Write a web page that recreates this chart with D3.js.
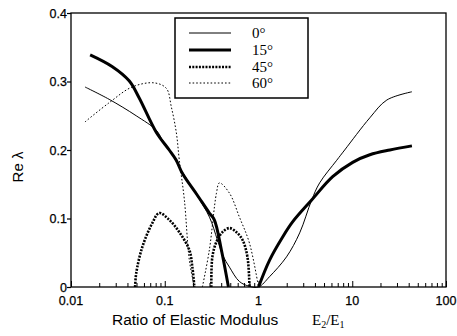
<!DOCTYPE html>
<html><head><meta charset="utf-8">
<script src="https://cdn.jsdelivr.net/npm/d3@7/dist/d3.min.js"></script>
<style>body{margin:0;background:#fff}svg{display:block}</style>
</head><body><svg id="c" width="457" height="336"></svg>
<script>
// ---- data ----
const seriesNames = ["0°", "15°", "45°", "60°"];
// 0° (thin solid)
const s0x = [0.0141, 0.0255, 0.0496, 0.0811, 0.094, 0.1117, 0.154, 0.22, 0.30, 0.364, 0.42, 0.49, 0.626, 0.80, 1.0,
             1.31, 1.99, 2.75, 3.69, 4.49, 6.83, 8.3, 15.4, 23.4, 43.3];
const s0y = [0.292, 0.274, 0.250, 0.229, 0.215, 0.201, 0.168, 0.134, 0.102, 0.069, 0.045, 0.029, 0.008, 0.001, 0.0,
             0.015, 0.044, 0.079, 0.127, 0.152, 0.185, 0.200, 0.247, 0.273, 0.285];
// 15° (thick solid)
const s1x = [0.016, 0.0274, 0.0417, 0.0534, 0.0811, 0.1117, 0.1327, 0.154, 0.22, 0.299, 0.338, 0.402, 0.478];
const s1y = [0.339, 0.322, 0.301, 0.276, 0.226, 0.200, 0.185, 0.166, 0.135, 0.108, 0.098, 0.054, 0.0];
const s1bx = [1.0, 1.31, 1.81, 2.31, 3.69, 6.18, 10.1, 15.4, 25.2, 43.3];
const s1by = [0.0, 0.039, 0.073, 0.095, 0.127, 0.161, 0.182, 0.193, 0.200, 0.206];
// 45° (thick dashed) two humps
const s2ax = [0.0483, 0.0496, 0.0575, 0.0735, 0.0873, 0.1117, 0.143, 0.183, 0.197, 0.207];
const s2ay = [0.0, 0.020, 0.058, 0.093, 0.108, 0.098, 0.080, 0.054, 0.029, 0.0];
const s2bx = [0.314, 0.322, 0.356, 0.412, 0.490, 0.582, 0.674, 0.762, 0.801];
const s2by = [0.0, 0.044, 0.066, 0.080, 0.086, 0.080, 0.069, 0.044, 0.0];
// 60° (thin dotted)
const s3ax = [0.0141, 0.0255, 0.0449, 0.0772, 0.104, 0.1175, 0.133, 0.143, 0.162, 0.183, 0.207];
const s3ay = [0.241, 0.269, 0.292, 0.298, 0.290, 0.263, 0.225, 0.185, 0.127, 0.039, 0.0];
const s3bx = [0.252, 0.299, 0.356, 0.383, 0.490, 0.626, 0.801, 1.0];
const s3by = [0.0, 0.054, 0.137, 0.152, 0.137, 0.102, 0.064, 0.0];

const xTickValues = [0.01, 0.1, 1, 10, 100];
const xTickLabels = ["0.01", "0.1", "1", "10", "100"];
const yTickValues = [0, 0.1, 0.2, 0.3, 0.4];
const yTickLabels = ["0", "0.1", "0.2", "0.3", "0.4"];

// ---- layout ----
const svg = d3.select("#c");
const L = 71, R = 446, T = 13, B = 287;
const x = d3.scaleLog().domain([0.01, 100]).range([L, R]);
const y = d3.scaleLinear().domain([0, 0.4]).range([B, T]);

const g = svg.append("g");
// frame
g.append("rect").attr("x", L).attr("y", T).attr("width", R - L).attr("height", B - T)
  .attr("fill", "none").attr("stroke", "#000").attr("stroke-width", 1.3);

// x axis (ticks inward)
const xAxis = d3.axisTop(x).tickValues(x.ticks()).tickSize(4).tickFormat("");
const xg = g.append("g").attr("transform", `translate(0,${B})`).call(xAxis);
xg.select(".domain").remove();
xg.selectAll(".tick line").attr("stroke", "#000").attr("stroke-width", 1)
  .attr("y2", d => xTickValues.includes(d) ? -6 : -4);
xTickValues.forEach((v, i) => {
  g.append("text").attr("x", x(v)).attr("y", B + 18).attr("text-anchor", "middle")
    .attr("font-family", "Liberation Sans, Arial, sans-serif").attr("font-size", 12.5)
    .attr("stroke", "#000").attr("stroke-width", 0.25)
    .text(xTickLabels[i]);
});

// y axis (ticks outward)
const yAxis = d3.axisLeft(y).tickValues(yTickValues).tickSize(4).tickFormat((d, i) => yTickLabels[i]);
const yg = g.append("g").attr("transform", `translate(${L},0)`).call(yAxis);
yg.select(".domain").remove();
yg.selectAll(".tick line").attr("stroke", "#000").attr("stroke-width", 1.2);
yg.selectAll(".tick text").attr("font-family", "Liberation Sans, Arial, sans-serif").attr("font-size", 12.5)
  .attr("fill", "#000").attr("stroke", "#000").attr("stroke-width", 0.25).attr("x", -4);

// axis titles
g.append("text").attr("transform", `translate(23,${167}) rotate(-90)`).attr("text-anchor", "middle")
  .attr("font-family", "Liberation Sans, Arial, sans-serif").attr("font-size", 15)
  .text("Re  λ");
const xt = g.append("text").attr("x", 112).attr("y", 325)
  .attr("font-family", "Liberation Sans, Arial, sans-serif").attr("font-size", 15.5);
xt.append("tspan").text("Ratio of Elastic Modulus");
const et = g.append("text").attr("x", 312).attr("y", 325)
  .attr("font-family", "Liberation Serif, Times New Roman, serif").attr("font-size", 15);
et.append("tspan").text("E");
et.append("tspan").attr("font-size", 10).attr("dy", 3).text("2");
et.append("tspan").attr("dy", -3).text("/E");
et.append("tspan").attr("font-size", 10).attr("dy", 3).text("1");

// ---- curves ----
const lineC = d3.line().x(d => x(d[0])).y(d => y(d[1])).curve(d3.curveCatmullRom.alpha(0.5));
const zip = (a, b) => a.map((v, i) => [v, b[i]]);
const styles = [
  {w: 1, dash: null},
  {w: 3, dash: null},
  {w: 2.6, dash: "2,1.3"},
  {w: 1, dash: "1.6,2"}
];
const segs = [
  [0, zip(s0x, s0y)],
  [1, zip(s1x, s1y)], [1, zip(s1bx, s1by)],
  [2, zip(s2ax, s2ay)], [2, zip(s2bx, s2by)],
  [3, zip(s3ax, s3ay)], [3, zip(s3bx, s3by)]
];
segs.forEach(([k, pts]) => {
  const st = styles[k];
  g.append("path").attr("d", lineC(pts)).attr("fill", "none").attr("stroke", "#000")
    .attr("stroke-width", st.w).attr("stroke-dasharray", st.dash).attr("stroke-linejoin", "round");
});

// ---- legend ----
const lg = g.append("g");
lg.append("rect").attr("x", 175).attr("y", 18).attr("width", 133).attr("height", 80)
  .attr("fill", "#fff").attr("stroke", "#000").attr("stroke-width", 1.5);
const rowsY = [33, 50, 67, 83];
seriesNames.forEach((n, i) => {
  const st = styles[i];
  lg.append("line").attr("x1", 189).attr("x2", 231).attr("y1", rowsY[i]).attr("y2", rowsY[i])
    .attr("stroke", "#000").attr("stroke-width", st.w).attr("stroke-dasharray", st.dash);
  lg.append("text").attr("x", 252).attr("y", rowsY[i] + 5)
    .attr("font-family", "Liberation Serif, Times New Roman, serif").attr("font-size", 15)
    .text(n);
});
</script></body></html>
